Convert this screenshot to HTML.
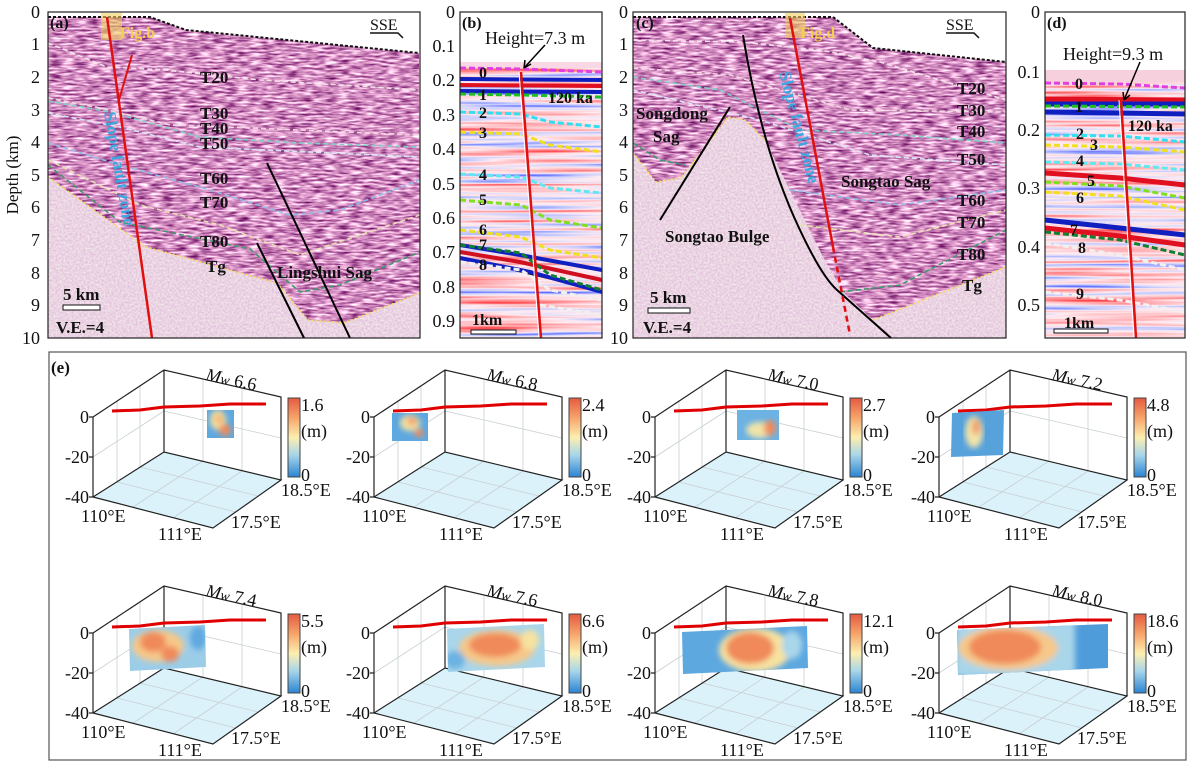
<!DOCTYPE html>
<html><head><meta charset="utf-8"><style>
html,body{margin:0;padding:0;background:#fff;}
svg{display:block;font-family:"Liberation Serif",serif;}
.tk{font-size:18px;fill:#111;}
.lb{font-size:16px;font-weight:bold;fill:#111;}
.ax{stroke:#222;stroke-width:1.2;fill:none;}
.gr{stroke:#c8cfd2;stroke-width:0.8;fill:none;}
</style></head><body>
<svg width="1187" height="763" viewBox="0 0 1187 763" xmlns="http://www.w3.org/2000/svg">
<defs>
<filter id="seis" x="0" y="0" width="1" height="1" color-interpolation-filters="sRGB">
<feTurbulence type="fractalNoise" baseFrequency="0.08 0.5" numOctaves="2" seed="3"/>
<feColorMatrix type="matrix" values="1.2 0 0 0 0.22  1.5 0 0 0 -0.2  1.1 0 0 0 0.2  0 0 0 0 1"/>
</filter>
<filter id="base" x="0" y="0" width="1" height="1" color-interpolation-filters="sRGB">
<feTurbulence type="fractalNoise" baseFrequency="0.5 0.5" numOctaves="1" seed="5"/>
<feColorMatrix type="matrix" values="0.12 0 0 0 0.86  0.3 0 0 0 0.68  0.1 0 0 0 0.84  0 0 0 0 1"/>
</filter>
<filter id="rb" x="0" y="0" width="1" height="1" color-interpolation-filters="sRGB">
<feTurbulence type="fractalNoise" baseFrequency="0.005 0.22" numOctaves="2" seed="8"/>
<feColorMatrix type="matrix" values="1 0 0 0 0  1 0 0 0 0  1 0 0 0 0  0 0 0 0 1"/>
<feComponentTransfer>
<feFuncR type="table" tableValues="0.1 0.3 0.75 1 1 1 0.9"/>
<feFuncG type="table" tableValues="0.15 0.35 0.78 0.93 0.7 0.3 0.1"/>
<feFuncB type="table" tableValues="0.85 1 1 0.95 0.72 0.32 0.12"/>
<feFuncA type="table" tableValues="1 1"/>
</feComponentTransfer>
</filter>
<filter id="blur3"><feGaussianBlur stdDeviation="3"/></filter>
<linearGradient id="cb" x1="0" y1="0" x2="0" y2="1">
<stop offset="0" stop-color="#e45a40"/><stop offset="0.25" stop-color="#f7a46a"/>
<stop offset="0.5" stop-color="#fcefb0"/><stop offset="0.72" stop-color="#a9d6ea"/>
<stop offset="1" stop-color="#2a84d4"/></linearGradient>
<clipPath id="cpA"><path d="M48,17 L150,17 L186,30 L419,53 L420,293 L344,323 L308,320 L277,283 L146,247 L48,177 Z"/></clipPath>
<clipPath id="cpC"><path d="M633,17 L833,17 L873,48 L1006,62 L1006,267 L873,320 L844,293 L823,257 L765,140 L745,120 L728,117 L681,178 L656,182 L633,153 Z"/></clipPath>
<g id="ax3">
<polygon points="93,497 164,452 281,480 213,528" fill="#dcf2fa"/>
<path class="gr" d="M133,507 L203,461 M173,518 L242,471 M117,482 L236,512 M140,467 L258,496 M203,379 L203,461 M242,388 L242,471 M164,411 L281,438 M117,401 L117,482 M140,386 L140,467 M93,457 L164,411"/>
<path class="ax" d="M93,417 L93,497 L213,528 L281,480 L164,452 L93,497 M93,417 L164,370 L281,397 L281,480 M164,370 L164,452 M93,417 L89,417 M93,457 L89,457 M93,497 L89,497"/>
<polyline points="112,411 140,410 164,407 200,406 230,404 266,404" fill="none" stroke="#e00000" stroke-width="3"/>
<rect x="288" y="398" width="12" height="79" fill="url(#cb)" stroke="#444" stroke-width="1"/>
</g>
</defs>

<!-- ===== Panel a ===== -->
<rect x="48" y="12" width="372" height="326" fill="#fff"/>
<rect x="48" y="150" width="372" height="188" filter="url(#base)"/>
<rect x="48" y="12" width="372" height="326" filter="url(#seis)" clip-path="url(#cpA)"/>
<path d="M48,17 L150,17 L186,30 L419,53" fill="none" stroke="#111" stroke-width="2" stroke-dasharray="3,2"/>
<g fill="none" stroke-width="1.6" stroke-dasharray="5,3">
<path d="M48,43 L107,67 L166,70 L260,80 L419,90" stroke="#f4e4ea"/>
<path d="M48,98 L100,108 L170,125 L250,128 L419,135" stroke="#f0d8e0"/>
<path d="M48,101 L110,112 L200,137 L300,143 L419,147" stroke="#7fd0c8"/>
<path d="M48,113 L120,127 L200,147 L419,157" stroke="#d8e4f4"/>
<path d="M48,143 L120,165 L210,190 L290,215 L340,210 L420,180" stroke="#8cc0e8"/>
<path d="M48,160 L140,205 L220,225 L300,255 L360,235 L420,215" stroke="#e8e0b0"/>
<path d="M48,165 L120,222 L250,249 L300,292 L340,285 L420,252" stroke="#3a9a6a"/>
<path d="M48,177 L146,247 L277,283 L308,320 L344,323 L420,293" stroke="#f0e060" stroke-dasharray="2,2"/>
</g>
<rect x="101" y="13" width="21" height="27" fill="#f0d060" opacity="0.6"/>
<line x1="107" y1="17" x2="152" y2="338" stroke="#e01010" stroke-width="2.5"/>
<line x1="119" y1="100" x2="132" y2="55" stroke="#e01010" stroke-width="2"/>
<line x1="267" y1="163" x2="350" y2="338" stroke="#000" stroke-width="2"/>
<line x1="257" y1="243" x2="304" y2="338" stroke="#000" stroke-width="2"/>
<rect x="48" y="12" width="372" height="326" fill="none" stroke="#222" stroke-width="1.2"/>
<text x="50" y="28" class="lb">(a)</text>
<text x="120" y="38" class="lb" style="fill:#f5d050">Fig.b</text>
<text x="370" y="30" class="tk" style="font-size:16px">SSE</text>
<path d="M370,33 L398,33 L403,38" fill="none" stroke="#111" stroke-width="1.5"/>
<g class="lb" style="font-size:17px">
<text x="200" y="83">T20</text><text x="200" y="119">T30</text><text x="200" y="134">T40</text><text x="200" y="149">T50</text>
<text x="200" y="184">T60</text><text x="200" y="208">T70</text><text x="200" y="247">T80</text><text x="206" y="272">Tg</text>
<text x="277" y="278">Lingshui Sag</text>
<text x="63" y="300">5 km</text><text x="56" y="333">V.E.=4</text>
</g>
<rect x="63" y="305" width="37" height="5" fill="#fff" stroke="#111"/>
<text transform="translate(104,113) rotate(80)" style="font-size:17px;font-weight:bold;fill:#3aa8e0">Slope fault zone</text>
<g class="tk" text-anchor="end">
<text x="40" y="18">0</text><text x="40" y="50">1</text><text x="40" y="83">2</text><text x="40" y="116">3</text><text x="40" y="148">4</text><text x="40" y="181">5</text><text x="40" y="213">6</text><text x="40" y="246">7</text><text x="40" y="279">8</text><text x="40" y="311">9</text><text x="40" y="344">10</text>
</g>
<text transform="translate(18,175) rotate(-90)" text-anchor="middle" class="tk" style="font-size:17px">Depth (km)</text>

<!-- ===== Panel b ===== -->
<rect x="460" y="12" width="142" height="326" fill="#fff"/>
<rect x="460" y="65" width="142" height="273" filter="url(#rb)"/>
<rect x="460" y="62" width="142" height="6" fill="#f8d8e4"/>
<g stroke-width="4">
<path d="M460,79 L602,80" stroke="#1020c0"/><path d="M460,85 L602,86" stroke="#e01020"/><path d="M460,91 L602,92" stroke="#1020c0"/>
<path d="M460,245 L520,255 L602,270" stroke="#1020c0"/><path d="M460,252 L520,262 L602,280" stroke="#d01020"/><path d="M460,258 L530,272 L602,292" stroke="#1020c0"/>
</g>
<g fill="none" stroke-width="3" stroke-dasharray="6,3">
<path d="M460,68 L521,69 L602,72" stroke="#e040e0"/>
<path d="M460,94 L521,95 L602,97" stroke="#20c020"/>
<path d="M460,112 L521,114 L550,122 L602,127" stroke="#30e0f0"/>
<path d="M460,132 L521,134 L550,145 L602,152" stroke="#f0e020"/>
<path d="M460,174 L521,177 L550,188 L602,193" stroke="#60e8f0"/>
<path d="M460,200 L521,205 L550,220 L602,228" stroke="#80e020"/>
<path d="M460,230 L521,237 L550,250 L602,258" stroke="#f0e020"/>
<path d="M460,245 L521,253 L550,275 L602,290" stroke="#108030"/>
<path d="M460,262 L521,270 L550,290 L602,300" stroke="#f0f0f0"/>
<path d="M540,305 L602,315" stroke="#f0f0f0"/>
</g>
<line x1="521" y1="72" x2="541" y2="338" stroke="#e01010" stroke-width="2.5"/>
<line x1="519" y1="72" x2="539" y2="338" stroke="#fff" stroke-width="1"/>
<path d="M545,45 L524,68" stroke="#000" stroke-width="1.5"/><path d="M524,68 L525,60 M524,68 L531,64" stroke="#000" stroke-width="1.5"/>
<rect x="460" y="12" width="142" height="326" fill="none" stroke="#222" stroke-width="1.2"/>
<text x="462" y="28" class="lb">(b)</text>
<text x="485" y="44" class="tk">Height=7.3 m</text>
<g class="lb" style="font-size:16px">
<text x="479" y="78">0</text><text x="479" y="100">1</text><text x="479" y="118">2</text><text x="479" y="138">3</text><text x="479" y="180">4</text><text x="479" y="205">5</text><text x="479" y="235">6</text><text x="479" y="250">7</text><text x="479" y="270">8</text>
<text x="548" y="103">120 ka</text><text x="472" y="325">1km</text>
</g>
<rect x="471" y="330" width="45" height="4" fill="#fff" stroke="#111"/>
<g class="tk" text-anchor="end">
<text x="455" y="18">0</text><text x="455" y="52">0.1</text><text x="455" y="86">0.2</text><text x="455" y="121">0.3</text><text x="455" y="155">0.4</text><text x="455" y="190">0.5</text><text x="455" y="224">0.6</text><text x="455" y="258">0.7</text><text x="455" y="293">0.8</text><text x="455" y="327">0.9</text>
</g>

<!-- ===== Panel c ===== -->
<rect x="633" y="12" width="373" height="326" fill="#fff"/>
<rect x="633" y="110" width="373" height="228" filter="url(#base)"/>
<rect x="633" y="12" width="373" height="326" filter="url(#seis)" clip-path="url(#cpC)"/>
<path d="M633,17 L833,17 L873,48 L1006,62" fill="none" stroke="#111" stroke-width="2" stroke-dasharray="3,2"/>
<g fill="none" stroke-width="1.6" stroke-dasharray="5,3">
<path d="M633,40 L740,42 L820,50 L880,62 L1006,100" stroke="#f4e4ea"/>
<path d="M633,68 L730,75 L850,110 L1006,112" stroke="#f0d8e0"/>
<path d="M633,77 L720,90 L800,130 L900,135 L1006,143" stroke="#7fd0c8"/>
<path d="M633,90 L760,120 L870,155 L1006,165" stroke="#d8e4f4"/>
<path d="M790,190 L900,205 L1006,190" stroke="#8cc0e8"/>
<path d="M800,225 L900,237 L1006,210" stroke="#e8e0b0"/>
<path d="M840,292 L900,285 L1006,230" stroke="#3a9a6a"/>
<path d="M633,143 L660,160 L685,165" stroke="#3a9a6a"/>
<path d="M633,153 L656,182 L681,178 L728,117 L745,120 L765,140" stroke="#f0e060" stroke-dasharray="2,2"/>
<path d="M873,320 L1006,267" stroke="#f0e060" stroke-dasharray="2,2"/>
</g>
<rect x="785" y="13" width="20" height="25" fill="#f0d060" opacity="0.6"/>
<path d="M743,35 Q760,140 794,217 Q820,275 837,290 L891,338" fill="none" stroke="#000" stroke-width="2"/>
<line x1="730" y1="107" x2="660" y2="220" stroke="#000" stroke-width="2"/>
<line x1="790" y1="18" x2="833" y2="247" stroke="#e01010" stroke-width="2.5"/>
<line x1="833" y1="247" x2="850" y2="335" stroke="#e01010" stroke-width="2.5" stroke-dasharray="6,4"/>
<rect x="633" y="12" width="373" height="326" fill="none" stroke="#222" stroke-width="1.2"/>
<text x="636" y="28" class="lb">(c)</text>
<text x="800" y="38" class="lb" style="fill:#f5d050">Fig.d</text>
<text x="946" y="30" class="tk" style="font-size:16px">SSE</text>
<path d="M946,33 L974,33 L979,38" fill="none" stroke="#111" stroke-width="1.5"/>
<g class="lb" style="font-size:17px">
<text x="957" y="94">T20</text><text x="957" y="116">T30</text><text x="957" y="137">T40</text><text x="957" y="165">T50</text>
<text x="957" y="206">T60</text><text x="957" y="228">T70</text><text x="957" y="260">T80</text><text x="962" y="291">Tg</text>
<text x="636" y="119">Songdong</text><text x="653" y="142">Sag</text>
<text x="665" y="242">Songtao Bulge</text><text x="841" y="187">Songtao Sag</text>
<text x="650" y="303">5 km</text><text x="643" y="333">V.E.=4</text>
</g>
<rect x="648" y="308" width="42" height="5" fill="#fff" stroke="#111"/>
<text transform="translate(779,73) rotate(75)" style="font-size:17px;font-weight:bold;fill:#3aa8e0">Slope fault zone</text>
<g class="tk" text-anchor="end">
<text x="628" y="18">0</text><text x="628" y="50">1</text><text x="628" y="83">2</text><text x="628" y="116">3</text><text x="628" y="148">4</text><text x="628" y="181">5</text><text x="628" y="213">6</text><text x="628" y="246">7</text><text x="628" y="279">8</text><text x="628" y="311">9</text><text x="628" y="344">10</text>
</g>

<!-- ===== Panel d ===== -->
<rect x="1045" y="12" width="140" height="326" fill="#fff"/>
<rect x="1045" y="72" width="140" height="266" filter="url(#rb)"/>
<rect x="1045" y="70" width="140" height="12" fill="#f6d0dc"/>
<g stroke-width="5">
<path d="M1045,99 L1185,100" stroke="#e01020"/><path d="M1045,104 L1185,104" stroke="#1020c0"/><path d="M1045,112 L1185,114" stroke="#1020c0"/>
<path d="M1045,173 L1120,178 L1185,185" stroke="#e01020"/>
<path d="M1045,220 L1120,228 L1185,235" stroke="#1020c0"/><path d="M1045,228 L1120,236 L1185,245" stroke="#e01020"/>
</g>
<g fill="none" stroke-width="3" stroke-dasharray="6,3">
<path d="M1045,83 L1120,84 L1185,88" stroke="#e040e0"/>
<path d="M1045,106 L1185,107" stroke="#20c020"/>
<path d="M1045,135 L1120,136 L1185,142" stroke="#30e0f0"/>
<path d="M1045,145 L1120,147 L1185,152" stroke="#f0e020"/>
<path d="M1045,162 L1120,164 L1185,170" stroke="#60e8f0"/>
<path d="M1045,182 L1120,186 L1185,198" stroke="#80e020"/>
<path d="M1045,192 L1120,196 L1185,210" stroke="#f0e020"/>
<path d="M1045,232 L1120,240 L1185,255" stroke="#108030"/>
<path d="M1045,243 L1120,255 L1185,270" stroke="#f0f0f0"/>
<path d="M1045,292 L1120,300 L1185,312" stroke="#f0f0f0"/>
</g>
<line x1="1121" y1="100" x2="1136" y2="338" stroke="#e01010" stroke-width="2.5"/>
<line x1="1119" y1="100" x2="1134" y2="338" stroke="#fff" stroke-width="1"/>
<path d="M1140,62 L1124,100 M1124,100 L1123,92 M1124,100 L1130,95" fill="none" stroke="#000" stroke-width="1.5"/>
<rect x="1045" y="12" width="140" height="326" fill="none" stroke="#222" stroke-width="1.2"/>
<text x="1047" y="28" class="lb">(d)</text>
<text x="1063" y="60" class="tk">Height=9.3 m</text>
<g class="lb" style="font-size:16px">
<text x="1075" y="89">0</text><text x="1075" y="112">1</text><text x="1076" y="139">2</text><text x="1090" y="150">3</text><text x="1076" y="166">4</text><text x="1087" y="186">5</text><text x="1076" y="203">6</text><text x="1070" y="235">7</text><text x="1078" y="253">8</text><text x="1076" y="299">9</text>
<text x="1128" y="131">120 ka</text><text x="1064" y="328">1km</text>
</g>
<rect x="1054" y="329" width="54" height="4" fill="#fff" stroke="#111"/>
<g class="tk" text-anchor="end">
<text x="1040" y="18">0</text><text x="1040" y="78">0.1</text><text x="1040" y="136">0.2</text><text x="1040" y="194">0.3</text><text x="1040" y="253">0.4</text><text x="1040" y="311">0.5</text>
</g>

<!-- ===== Panel e ===== -->
<rect x="49" y="352" width="1137" height="408" fill="#fff" stroke="#555" stroke-width="1.2"/>
<text x="51" y="373" class="lb" style="font-size:17px">(e)</text>

<use href="#ax3" transform="translate(0,0)"/>
<use href="#ax3" transform="translate(281,0)"/>
<use href="#ax3" transform="translate(562,0)"/>
<use href="#ax3" transform="translate(846,0)"/>
<use href="#ax3" transform="translate(0,216)"/>
<use href="#ax3" transform="translate(281,216)"/>
<use href="#ax3" transform="translate(562,216)"/>
<use href="#ax3" transform="translate(846,216)"/>

<clipPath id="p1"><rect x="207" y="410" width="27" height="28"/></clipPath>
<g clip-path="url(#p1)"><rect x="207" y="410" width="27" height="28" fill="#5ea8e0"/>
<g filter="url(#blur3)"><ellipse cx="218" cy="420" rx="8" ry="10" fill="#f7e2a0"/><ellipse cx="225" cy="430" rx="6" ry="6" fill="#f08a5a"/><ellipse cx="219" cy="419" rx="4" ry="5" fill="#f6b070"/></g></g>
<clipPath id="p2"><rect x="392" y="413" width="36" height="28"/></clipPath>
<g clip-path="url(#p2)"><rect x="392" y="413" width="36" height="28" fill="#5ea8e0"/>
<g filter="url(#blur3)"><ellipse cx="410" cy="423" rx="10" ry="8" fill="#f7e2a0"/><ellipse cx="412" cy="421" rx="5" ry="4" fill="#f39a66"/><ellipse cx="419" cy="433" rx="5" ry="4" fill="#f08a5a"/></g></g>
<clipPath id="p3"><rect x="737" y="410" width="42" height="30"/></clipPath>
<g clip-path="url(#p3)"><rect x="737" y="410" width="42" height="30" fill="#6cb2e2"/>
<g filter="url(#blur3)"><ellipse cx="760" cy="430" rx="14" ry="8" fill="#f2e4a8"/><ellipse cx="770" cy="428" rx="6" ry="8" fill="#f08a5a"/></g></g>
<clipPath id="p4"><polygon points="952,413 1004,410 1003,455 951,457"/></clipPath>
<g clip-path="url(#p4)"><rect x="950" y="408" width="56" height="50" fill="#58a2dc"/>
<g filter="url(#blur3)"><ellipse cx="974" cy="432" rx="9" ry="16" fill="#f2e4a8"/><ellipse cx="976" cy="427" rx="4" ry="8" fill="#f39a66"/></g></g>
<clipPath id="p5"><polygon points="129,629 205,625 206,667 130,671"/></clipPath>
<g clip-path="url(#p5)"><rect x="128" y="624" width="80" height="50" fill="#9ccde8"/>
<g filter="url(#blur3)"><ellipse cx="158" cy="646" rx="26" ry="16" fill="#f6c88a"/><ellipse cx="153" cy="642" rx="13" ry="10" fill="#f08a5a"/><ellipse cx="170" cy="654" rx="9" ry="8" fill="#f08a5a"/><ellipse cx="198" cy="638" rx="8" ry="12" fill="#5ea8e0"/></g></g>
<clipPath id="p6"><polygon points="447,629 544,624 545,667 448,672"/></clipPath>
<g clip-path="url(#p6)"><rect x="445" y="622" width="102" height="52" fill="#a9d6ea"/>
<g filter="url(#blur3)"><ellipse cx="497" cy="648" rx="38" ry="18" fill="#f6c88a"/><ellipse cx="495" cy="645" rx="26" ry="12" fill="#f08a5a"/><ellipse cx="530" cy="640" rx="9" ry="10" fill="#f7e2a0"/><ellipse cx="455" cy="660" rx="10" ry="9" fill="#6cb2e2"/></g></g>
<clipPath id="p7"><polygon points="682,632 807,626 808,668 683,674"/></clipPath>
<g clip-path="url(#p7)"><rect x="680" y="624" width="130" height="52" fill="#5ea8e0"/>
<g filter="url(#blur3)"><ellipse cx="755" cy="650" rx="36" ry="22" fill="#f7e2a0"/><ellipse cx="750" cy="648" rx="24" ry="16" fill="#f08a5a"/><ellipse cx="792" cy="645" rx="10" ry="14" fill="#a9d6ea"/></g></g>
<clipPath id="p8"><polygon points="957,630 1108,624 1108,668 958,675"/></clipPath>
<g clip-path="url(#p8)"><rect x="955" y="622" width="155" height="55" fill="#4f9cdb"/>
<g filter="url(#blur3)"><rect x="955" y="622" width="120" height="55" fill="#a9d6ea"/><ellipse cx="1008" cy="648" rx="50" ry="22" fill="#f6c88a"/><ellipse cx="1005" cy="647" rx="36" ry="17" fill="#f08a5a"/></g></g>

<g class="tk">
<g text-anchor="end"><text x="89" y="423">0</text><text x="89" y="463">-20</text><text x="89" y="503">-40</text>
<text x="370" y="423">0</text><text x="370" y="463">-20</text><text x="370" y="503">-40</text>
<text x="651" y="423">0</text><text x="651" y="463">-20</text><text x="651" y="503">-40</text>
<text x="935" y="423">0</text><text x="935" y="463">-20</text><text x="935" y="503">-40</text>
<text x="89" y="639">0</text><text x="89" y="679">-20</text><text x="89" y="719">-40</text>
<text x="370" y="639">0</text><text x="370" y="679">-20</text><text x="370" y="719">-40</text>
<text x="651" y="639">0</text><text x="651" y="679">-20</text><text x="651" y="719">-40</text>
<text x="935" y="639">0</text><text x="935" y="679">-20</text><text x="935" y="719">-40</text></g>
<text x="81" y="522">110°E</text><text x="158" y="540">111°E</text><text x="231" y="528">17.5°E</text><text x="281" y="496">18.5°E</text>
<text x="362" y="522">110°E</text><text x="439" y="540">111°E</text><text x="512" y="528">17.5°E</text><text x="562" y="496">18.5°E</text>
<text x="643" y="522">110°E</text><text x="720" y="540">111°E</text><text x="793" y="528">17.5°E</text><text x="843" y="496">18.5°E</text>
<text x="927" y="522">110°E</text><text x="1004" y="540">111°E</text><text x="1077" y="528">17.5°E</text><text x="1127" y="496">18.5°E</text>
<text x="81" y="738">110°E</text><text x="158" y="756">111°E</text><text x="231" y="744">17.5°E</text><text x="281" y="712">18.5°E</text>
<text x="362" y="738">110°E</text><text x="439" y="756">111°E</text><text x="512" y="744">17.5°E</text><text x="562" y="712">18.5°E</text>
<text x="643" y="738">110°E</text><text x="720" y="756">111°E</text><text x="793" y="744">17.5°E</text><text x="843" y="712">18.5°E</text>
<text x="927" y="738">110°E</text><text x="1004" y="756">111°E</text><text x="1077" y="744">17.5°E</text><text x="1127" y="712">18.5°E</text>
<text x="301" y="411">1.6</text><text x="301" y="437">(m)</text><text x="301" y="481">0</text>
<text x="582" y="411">2.4</text><text x="582" y="437">(m)</text><text x="582" y="481">0</text>
<text x="863" y="411">2.7</text><text x="863" y="437">(m)</text><text x="863" y="481">0</text>
<text x="1147" y="411">4.8</text><text x="1147" y="437">(m)</text><text x="1147" y="481">0</text>
<text x="301" y="627">5.5</text><text x="301" y="653">(m)</text><text x="301" y="697">0</text>
<text x="582" y="627">6.6</text><text x="582" y="653">(m)</text><text x="582" y="697">0</text>
<text x="863" y="627">12.1</text><text x="863" y="653">(m)</text><text x="863" y="697">0</text>
<text x="1147" y="627">18.6</text><text x="1147" y="653">(m)</text><text x="1147" y="697">0</text>
<text transform="translate(205,380) rotate(12)"><tspan font-style="italic">M</tspan><tspan font-style="italic" font-size="14">w</tspan> 6.6</text>
<text transform="translate(486,380) rotate(12)"><tspan font-style="italic">M</tspan><tspan font-style="italic" font-size="14">w</tspan> 6.8</text>
<text transform="translate(767,380) rotate(12)"><tspan font-style="italic">M</tspan><tspan font-style="italic" font-size="14">w</tspan> 7.0</text>
<text transform="translate(1051,380) rotate(12)"><tspan font-style="italic">M</tspan><tspan font-style="italic" font-size="14">w</tspan> 7.2</text>
<text transform="translate(205,596) rotate(12)"><tspan font-style="italic">M</tspan><tspan font-style="italic" font-size="14">w</tspan> 7.4</text>
<text transform="translate(486,596) rotate(12)"><tspan font-style="italic">M</tspan><tspan font-style="italic" font-size="14">w</tspan> 7.6</text>
<text transform="translate(767,596) rotate(12)"><tspan font-style="italic">M</tspan><tspan font-style="italic" font-size="14">w</tspan> 7.8</text>
<text transform="translate(1051,596) rotate(12)"><tspan font-style="italic">M</tspan><tspan font-style="italic" font-size="14">w</tspan> 8.0</text>
</g>
</svg>
</body></html>
